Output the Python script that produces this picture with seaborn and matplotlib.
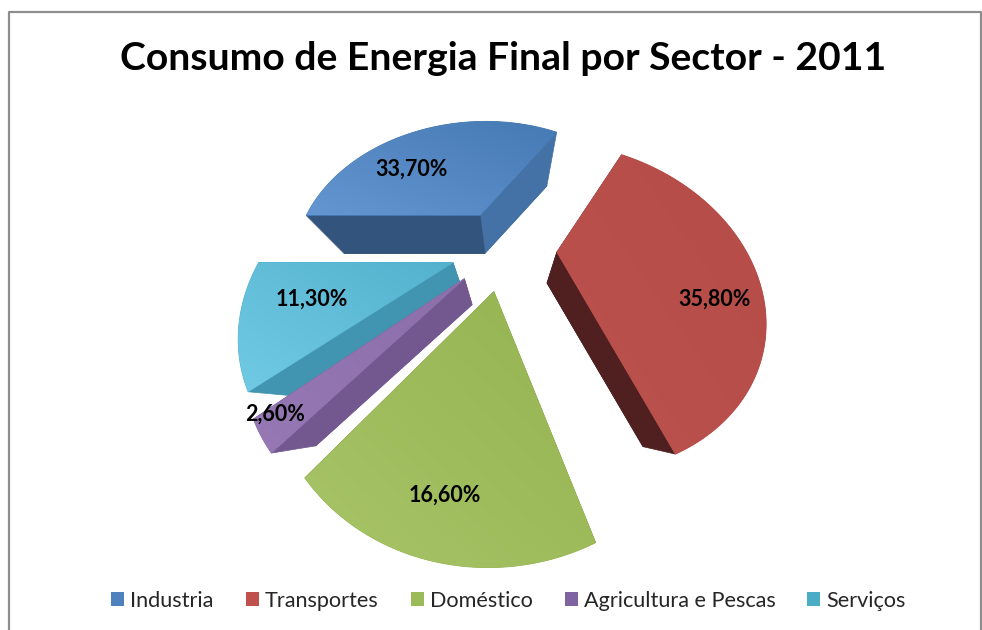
import numpy as np
import matplotlib
matplotlib.use("Agg")
import matplotlib.pyplot as plt
from matplotlib.colors import LinearSegmentedColormap
from matplotlib.patches import Patch, Polygon
import seaborn as sns

title = "Consumo de Energia Final por Sector - 2011"
sectors = ["Industria", "Transportes", "Doméstico", "Agricultura e Pescas", "Serviços"]
shares = [33.7, 35.8, 16.6, 2.6, 11.3]

legend_colors = ["#4F81BD", "#C0504D", "#9BBB59", "#8064A2", "#4BACC6"]
top_light = ["#6496D2", "#BC524E", "#A8C468", "#9679B4", "#70CAE4"]
top_dark = ["#467AB4", "#B54C48", "#94B350", "#8C6FAA", "#54B2CE"]
side_a = ["#33547C", "#4F201F", "#6F8A3C", "#72588F", "#4295B0"]
side_b = ["#4472A6", "#4F201F", "#6F8A3C", "#72588F", "#4295B0"]

# where each % label sits inside its slice
label_dist = [0.63, 0.78, 0.83, 0.932, 0.69]
label_turn = [18, -16, -0.5, -2.6, -1.5]

# tilt of the pie plane, in figure pixels
CX, HORIZON, H, DEPTH, SCALE = 504, -184, 432, 3.0, 188
NADIR = np.array([505, 415])
THICK = 0.19


def project(x, y):
    w = 1 + np.asarray(y) / DEPTH
    return np.column_stack([CX + SCALE * np.asarray(x) / w, HORIZON + H / w])


def lower(pts):
    return pts + THICK * (NADIR - pts)


def gradient_face(ax, pts, light, dark, zorder):
    poly = Polygon(pts, closed=True, fc=dark, ec=dark, lw=0.6, zorder=zorder)
    ax.add_patch(poly)
    x0, y0 = pts.min(axis=0)
    x1, y1 = pts.max(axis=0)
    gx, gy = np.meshgrid(np.linspace(0, 1, 64), np.linspace(0, 1, 64))
    cmap = LinearSegmentedColormap.from_list("face", [dark, light])
    ax.imshow((gy + (1 - gx)) / 2, cmap=cmap, extent=(x0, x1, y1, y0), aspect="auto",
              origin="upper", clip_path=poly, zorder=zorder + 0.1, interpolation="bilinear")


sns.set_theme(style="white")
plt.rcParams["font.family"] = ["Lato", "DejaVu Sans"]

fig = plt.figure(figsize=(9.82, 6.3), dpi=100)
ax = fig.add_axes([0, 0, 1, 1])

wedges, _ = ax.pie(shares, explode=[0.28] * 5, startangle=180, counterclock=False, radius=1)
geometry = [(w.center, w.r, w.theta1, w.theta2) for w in wedges]
for w in wedges:
    w.remove()

ax.set_aspect("auto")
ax.axis("off")

# back to front so the front slices cover the others
order = [0, 1, 4, 3, 2]
for z, i in enumerate(order):
    (cx, cy), r, t1, t2 = geometry[i]
    ang = np.radians(np.linspace(t1, t2, 120))
    top = project(np.r_[cx, cx + r * np.cos(ang)], np.r_[cy, cy + r * np.sin(ang)])
    bot = lower(top)
    zb = 10 + 2 * z
    ax.add_patch(Polygon(bot, fc=side_a[i], ec=side_a[i], lw=0.5, zorder=zb))
    # theta runs counterclockwise, so index 1 is the t1 edge and -1 the t2 edge
    quad_1 = np.array([top[0], top[1], bot[1], bot[0]])
    quad_2 = np.array([top[0], top[-1], bot[-1], bot[0]])
    ax.add_patch(Polygon(quad_1, fc=side_b[i], ec=side_b[i], lw=0.5, zorder=zb + 0.2))
    ax.add_patch(Polygon(quad_2, fc=side_a[i], ec=side_a[i], lw=0.5, zorder=zb + 0.2))
    gradient_face(ax, top, top_light[i], top_dark[i], zb + 0.5)

    mid = np.radians((t1 + t2) / 2 + label_turn[i])
    lx, ly = cx + label_dist[i] * r * np.cos(mid), cy + label_dist[i] * r * np.sin(mid)
    pos = project([lx], [ly])[0]
    ax.text(pos[0], pos[1], f"{shares[i]:.2f}%".replace(".", ","), ha="center", va="center",
            fontsize=15.5, fontweight="bold", color="black", zorder=50)

ax.plot([9, 9, 981, 981], [630, 12, 12, 630], color="#8E8E8E", lw=1.6, zorder=1)
ax.text(503.5, 59, title, ha="center", va="center", fontsize=28.15, fontweight="bold", color="black")

handles = [Patch(fc=c, ec="none") for c in legend_colors]
ax.legend(handles, sectors, loc="center", bbox_to_anchor=(508.5, 601), bbox_transform=ax.transData,
          ncols=5, frameon=False, fontsize=15.6, handlelength=0.6, handleheight=0.6,
          handletextpad=0.28, columnspacing=1.48)

ax.set_xlim(0, 982)
ax.set_ylim(630, 0)
fig.savefig("out.png", dpi=100)
